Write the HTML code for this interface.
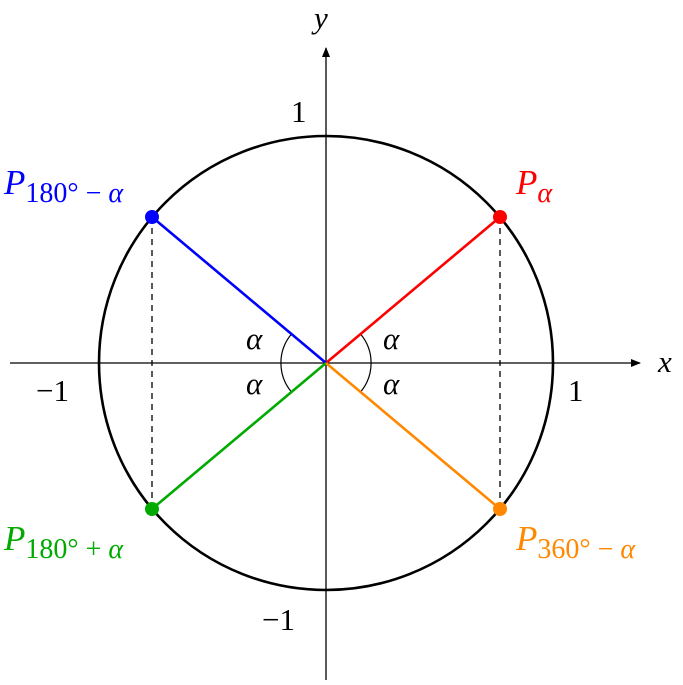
<!DOCTYPE html>
<html><head><style>body{margin:0;background:#fff}svg{display:block}text{font-family:"Liberation Serif",serif}</style></head>
<body>
<svg width="683" height="685" viewBox="0 0 683 685" xmlns="http://www.w3.org/2000/svg">
<defs><marker id="ar" viewBox="0 0 10 10" refX="9" refY="5" markerWidth="10" markerHeight="10" markerUnits="userSpaceOnUse" orient="auto"><path d="M0,1 L10,5 L0,9 Z" fill="#000"/></marker></defs>
<line x1="10" y1="363" x2="640" y2="363" stroke="#000" stroke-width="1.3" marker-end="url(#ar)"/>
<line x1="326" y1="680" x2="326" y2="48" stroke="#000" stroke-width="1.3" marker-end="url(#ar)"/>
<circle cx="326" cy="363" r="227" fill="none" stroke="#000" stroke-width="2.6"/>
<line x1="500" y1="217" x2="500" y2="509" stroke="#000" stroke-width="1.3" stroke-dasharray="6,5"/>
<line x1="152" y1="217" x2="152" y2="509" stroke="#000" stroke-width="1.3" stroke-dasharray="6,5"/>
<path d="M360.5,334 A45,45 0 0 1 360.5,392" fill="none" stroke="#000" stroke-width="1.2"/>
<path d="M291.5,334 A45,45 0 0 0 291.5,392" fill="none" stroke="#000" stroke-width="1.2"/>
<line x1="326" y1="363" x2="500" y2="217" stroke="#f00" stroke-width="2.6"/>
<line x1="326" y1="363" x2="152" y2="217" stroke="#00f" stroke-width="2.6"/>
<line x1="326" y1="363" x2="152" y2="509" stroke="#0a0" stroke-width="2.6"/>
<line x1="326" y1="363" x2="500" y2="509" stroke="#f80" stroke-width="2.6"/>
<circle cx="500" cy="217" r="7" fill="#f00"/>
<circle cx="152" cy="217" r="7" fill="#00f"/>
<circle cx="152" cy="509" r="7" fill="#0a0"/>
<circle cx="500" cy="509" r="7" fill="#f80"/>
<g font-size="31">
<text x="314" y="28" font-style="italic">y</text>
<text x="658" y="372" font-style="italic">x</text>
<text x="291" y="122">1</text>
<text x="36" y="401">−1</text>
<text x="568" y="401">1</text>
<text x="262" y="630">−1</text>
<text x="383" y="349" font-style="italic">α</text>
<text x="383" y="394" font-style="italic">α</text>
<text x="246" y="349" font-style="italic">α</text>
<text x="246" y="394" font-style="italic">α</text>
</g>
<g font-size="35">
<text x="516" y="194" fill="#f00" font-style="italic">P<tspan font-size="28" dy="8">α</tspan></text>
<text x="4" y="194" fill="#00f" font-style="italic" xml:space="preserve">P<tspan font-size="28" dy="8" font-style="normal">180° − </tspan><tspan font-size="28">α</tspan></text>
<text x="4" y="550" fill="#0a0" font-style="italic" xml:space="preserve">P<tspan font-size="28" dy="8" font-style="normal">180° + </tspan><tspan font-size="28">α</tspan></text>
<text x="516" y="550" fill="#f80" font-style="italic" xml:space="preserve">P<tspan font-size="28" dy="8" font-style="normal">360° − </tspan><tspan font-size="28">α</tspan></text>
</g>
</svg>
</body></html>
